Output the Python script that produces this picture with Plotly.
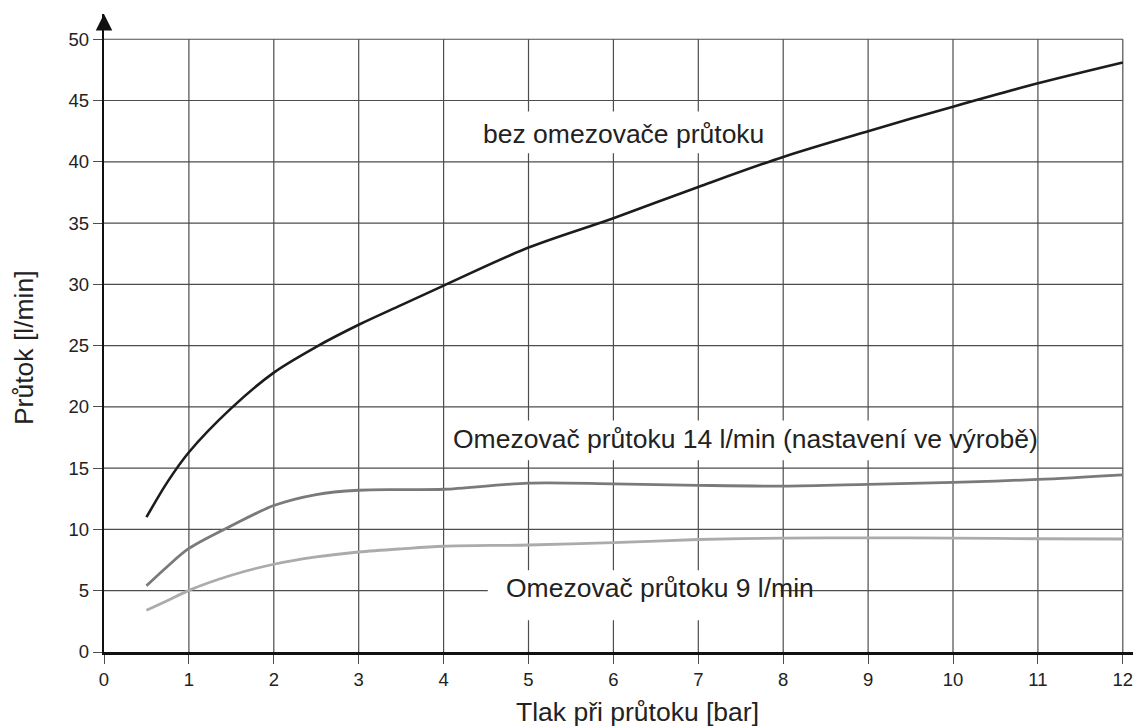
import plotly.graph_objects as go

# Pressure (bar) at which the flow was measured
tlak = [0.5, 0.75, 1, 1.5, 2, 2.5, 3, 3.5, 4, 5, 6, 7, 8, 9, 10, 11, 12]

# Flow rate (l/min) for each configuration
bez_omezovace = [11.0, 13.9, 16.3, 19.9, 22.8, 24.9, 26.7, 28.3, 29.9, 33.0, 35.4, 37.95, 40.4, 42.5, 44.5, 46.4, 48.1]
omezovac_14 = [5.4, 7.0, 8.45, 10.3, 11.95, 12.85, 13.2, 13.25, 13.28, 13.78, 13.72, 13.6, 13.54, 13.68, 13.84, 14.08, 14.46]
omezovac_9 = [3.4, 4.2, 5.03, 6.26, 7.16, 7.76, 8.16, 8.42, 8.63, 8.73, 8.92, 9.18, 9.3, 9.32, 9.3, 9.24, 9.22]

x_ticks = list(range(0, 13))
y_ticks = list(range(0, 55, 5))

FONT = "Liberation Sans, Arial, Helvetica, sans-serif"
GRID = "#4d4d4d"
TXT = "#222222"

fig = go.Figure()

fig.add_trace(go.Scatter(x=tlak, y=bez_omezovace, mode="lines",
                         line=dict(color="#1c1c1c", width=2.6, shape="spline", smoothing=0.9),
                         hoverinfo="skip", showlegend=False))
fig.add_trace(go.Scatter(x=tlak, y=omezovac_14, mode="lines",
                         line=dict(color="#7a7a7a", width=2.8, shape="spline", smoothing=0.9),
                         hoverinfo="skip", showlegend=False))
fig.add_trace(go.Scatter(x=tlak, y=omezovac_9, mode="lines",
                         line=dict(color="#ababab", width=2.8, shape="spline", smoothing=0.9),
                         hoverinfo="skip", showlegend=False))

shapes = []
# grid: vertical lines at each bar, horizontal at every 5 l/min, stopping at 12 bar / 50 l/min
for xv in x_ticks[1:]:
    shapes.append(dict(type="line", xref="x", yref="y", x0=xv, x1=xv, y0=0, y1=50,
                       line=dict(color=GRID, width=1.2), layer="below"))
for yv in y_ticks[1:]:
    shapes.append(dict(type="line", xref="x", yref="y", x0=0, x1=12, y0=yv, y1=yv,
                       line=dict(color=GRID, width=1.2), layer="below"))

# white patches behind the curve labels
for (bx0, bx1, by0, by1) in [(4.37, 7.84, 40.7, 44.1),
                             (4.05, 9.9, 15.65, 18.9),
                             (4.52, 7.97, 2.6, 6.67)]:
    shapes.append(dict(type="rect", xref="x", yref="y", x0=bx0, x1=bx1, y0=by0, y1=by1,
                       fillcolor="white", line=dict(width=0), layer="below"))

LBL = 26.5
annotations = [
    # arrow head on top of the y axis
    dict(text="", x=0, y=1, xref="x", yref="paper", ax=0, ay=16, axref="pixel", ayref="pixel",
         showarrow=True, arrowhead=2, arrowsize=1.5, arrowwidth=2.2, arrowcolor="#111111"),
    dict(text="bez omezovače průtoku", x=4.44, y=42.3, xref="x", yref="y",
         xanchor="left", yanchor="middle", showarrow=False,
         font=dict(family=FONT, size=LBL, color=TXT)),
    dict(text="Omezovač průtoku 14 l/min (nastavení ve výrobě)", x=4.09, y=17.4, xref="x", yref="y",
         xanchor="left", yanchor="middle", showarrow=False,
         font=dict(family=FONT, size=LBL, color=TXT)),
    dict(text="Omezovač průtoku 9 l/min", x=4.71, y=5.25, xref="x", yref="y",
         xanchor="left", yanchor="middle", showarrow=False,
         font=dict(family=FONT, size=LBL, color=TXT)),
    dict(text="Tlak při průtoku [bar]", x=6.28, y=0, xref="x", yref="paper",
         xanchor="center", yanchor="middle", yshift=-60, showarrow=False,
         font=dict(family=FONT, size=LBL, color=TXT)),
    dict(text="Průtok [l/min]", x=0, y=24.8, xref="paper", yref="y",
         xanchor="center", yanchor="middle", xshift=-80, textangle=-90, showarrow=False,
         font=dict(family=FONT, size=LBL, color=TXT)),
]

fig.update_layout(
    width=1133, height=727,
    margin=dict(l=104, r=0, t=14, b=75.3, pad=0),
    paper_bgcolor="white", plot_bgcolor="white",
    shapes=shapes, annotations=annotations,
    xaxis=dict(range=[0, 12.12], tickvals=x_ticks, ticktext=[str(v) for v in x_ticks],
               showgrid=False, zeroline=False, showline=True, linecolor="#111111", linewidth=3,
               ticks="outside", ticklen=9, tickcolor=GRID, tickwidth=1.2,
               ticklabeloverflow="allow",
               tickfont=dict(family=FONT, size=18.5, color=TXT)),
    yaxis=dict(range=[0, 52.06], tickvals=y_ticks, ticktext=[str(v) for v in y_ticks],
               showgrid=False, zeroline=False, showline=True, linecolor="#111111", linewidth=2.4,
               ticks="outside", ticklen=9, tickcolor=GRID, tickwidth=1.2,
               ticklabeloverflow="allow",
               tickfont=dict(family=FONT, size=18.5, color=TXT)),
)

fig.write_html("out.html")
